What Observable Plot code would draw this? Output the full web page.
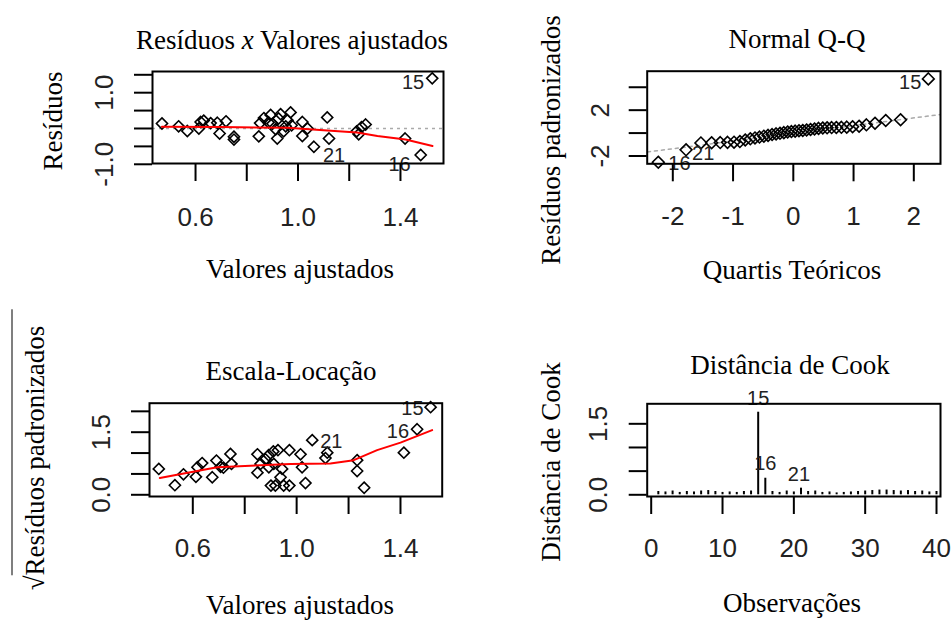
<!DOCTYPE html>
<html><head><meta charset="utf-8">
<script src="https://cdn.jsdelivr.net/npm/d3@7"></script>
<script src="https://cdn.jsdelivr.net/npm/@observablehq/plot@0.6"></script>
<style>
html,body{margin:0;padding:0;background:#fff;}
#chart{position:relative;width:951px;height:623px;overflow:hidden;background:#fff;}
.lbl{position:absolute;font-family:"Liberation Serif","Times New Roman",serif;font-size:27px;line-height:27px;white-space:nowrap;color:#000;}
</style></head><body><div id="chart"></div>
<script>
// ---------- Panel 1: Resíduos x Valores ajustados ----------
const p1Fitted = [0.469,0.534,0.568,0.613,0.620,0.632,0.659,0.685,0.694,0.719,0.750,0.750,0.847,0.852,0.867,0.885,0.893,0.900,0.913,0.919,0.924,0.932,0.944,0.952,0.959,0.971,0.975,1.017,1.017,1.037,1.062,1.114,1.121,1.229,1.237,1.248,1.264,1.418,1.479,1.524];
const p1Resid  = [0.14,0.06,-0.07,0.00,0.18,0.22,0.15,0.16,-0.14,0.20,-0.23,-0.31,-0.22,0.15,0.29,0.17,0.38,0.13,-0.02,-0.28,0.28,0.40,-0.08,0.06,0.23,0.45,0.09,0.18,-0.21,0.00,-0.51,0.31,-0.28,-0.08,-0.16,0.04,0.11,-0.28,-0.74,1.40];
const p1SmoothX = [0.469,0.70,0.96,1.10,1.23,1.31,1.42,1.525];
const p1SmoothY = [0.05,0.04,0.02,-0.05,-0.11,-0.21,-0.31,-0.49];
const p1XTicks = [0.6,0.8,1.0,1.2,1.4];
const p1XTickLabels = [0.6,1.0,1.4];
const p1YTicks = [-1.0,-0.5,0,0.5,1.0,1.5];
const p1YTickLabels = [-1.0,1.0];
const p1Ids = ["15","16","21"];
const p1IdX = [1.524,1.479,1.062];
const p1IdY = [1.40,-0.74,-0.51];

// ---------- Panel 2: Normal Q-Q ----------
const qqTheo = [-2.241,-1.780,-1.534,-1.356,-1.213,-1.092,-0.984,-0.887,-0.798,-0.714,-0.636,-0.561,-0.489,-0.419,-0.352,-0.286,-0.221,-0.157,-0.094,-0.031,0.031,0.094,0.157,0.221,0.286,0.352,0.419,0.489,0.561,0.636,0.714,0.798,0.887,0.984,1.092,1.213,1.356,1.534,1.780,2.241];
const qqStd = [-2.54,-1.46,-0.86,-0.84,-0.83,-0.81,-0.79,-0.74,-0.60,-0.50,-0.42,-0.35,-0.27,-0.20,-0.13,-0.07,-0.02,0.04,0.09,0.13,0.17,0.20,0.23,0.27,0.31,0.36,0.41,0.44,0.46,0.48,0.49,0.50,0.52,0.55,0.60,0.72,0.86,1.10,1.16,4.73];
const qqRefX = [-2.42,2.44];
const qqRefY = [-1.65,1.62];
const p2XTicks = [-2,-1,0,1,2];
const p2XTickLabels = [-2,-1,0,1,2];
const p2YTicks = [-2,0,2,4];
const p2YTickLabels = [-2,2];
const p2Ids = ["15","16","21"];
const p2IdX = [2.241,-2.241,-1.780];
const p2IdY = [4.73,-2.54,-1.46];

// ---------- Panel 3: Escala-Locação ----------
const p3Fitted = [0.469,0.531,0.564,0.612,0.618,0.636,0.675,0.691,0.707,0.718,0.745,0.749,0.849,0.849,0.861,0.880,0.892,0.893,0.901,0.910,0.912,0.918,0.928,0.938,0.944,0.950,0.972,0.972,1.015,1.021,1.034,1.060,1.111,1.118,1.233,1.233,1.260,1.413,1.464,1.516];
const p3SqrtStd = [0.62,0.23,0.49,0.43,0.66,0.76,0.42,0.82,0.67,0.65,0.98,0.74,0.97,0.53,0.74,0.85,0.95,0.66,0.22,1.04,0.74,0.22,1.07,0.42,0.62,0.22,1.07,0.22,0.97,0.66,0.28,1.31,0.88,1.01,0.83,0.57,0.17,1.01,1.57,2.10];
const p3SmoothX = [0.473,0.565,0.694,0.861,0.976,1.13,1.22,1.31,1.40,1.522];
const p3SmoothY = [0.40,0.51,0.66,0.71,0.74,0.75,0.83,1.07,1.25,1.55];
const p3XTicks = [0.6,0.8,1.0,1.2,1.4];
const p3XTickLabels = [0.6,1.0,1.4];
const p3YTicks = [0,0.5,1.0,1.5,2.0];
const p3YTickLabels = [0.0,1.5];
const p3Ids = ["15","16","21"];
const p3IdX = [1.516,1.464,1.060];
const p3IdY = [2.10,1.57,1.31];

// ---------- Panel 4: Distância de Cook ----------
const cookObs = [1,2,3,4,5,6,7,8,9,10,11,12,13,14,15,16,17,18,19,20,21,22,23,24,25,26,27,28,29,30,31,32,33,34,35,36,37,38,39,40];
const cookD = [0.07,0.06,0.08,0.05,0.07,0.06,0.08,0.09,0.07,0.05,0.06,0.05,0.07,0.08,1.745,0.35,0.07,0.05,0.08,0.06,0.14,0.07,0.08,0.05,0.06,0.04,0.05,0.06,0.07,0.08,0.09,0.10,0.10,0.09,0.08,0.09,0.07,0.08,0.06,0.07];
const p4XTicks = [0,10,20,30,40];
const p4XTickLabels = [0,10,20,30,40];
const p4YTicks = [0,0.5,1.0,1.5];
const p4YTickLabels = [0.0,1.5];
const p4Ids = ["15","16","21"];
const p4IdX = [15,16,21];
const p4IdY = [1.745,0.35,0.14];

// ---------- drawing ----------
const W = 951, H = 623;
const SANS = "Liberation Sans, Arial, sans-serif";
const chart = document.getElementById("chart");
const zip = (xs, ys) => xs.map((x, i) => ({x, y: ys[i]}));

function panel({box, xDomain, yDomain, xTicks, yTicks, xLabels, yLabels, fmtX, fmtY, xdy, ydx, marks}) {
  const svg = Plot.plot({
    width: W, height: H,
    marginLeft: box.L, marginRight: W - box.R, marginTop: box.T, marginBottom: H - box.B,
    x: {domain: xDomain, label: null},
    y: {domain: yDomain, label: null},
    style: "position:absolute;left:0;top:0;background:transparent;max-width:none;overflow:visible;",
    marks: [
      ...marks,
      Plot.frame({stroke: "#000", strokeWidth: 2}),
      Plot.axisX(xTicks, {anchor: "bottom", tickSize: 18, tickFormat: () => "", strokeWidth: 2, label: null}),
      Plot.axisY(yTicks, {anchor: "left", tickSize: 18, tickFormat: () => "", strokeWidth: 2, label: null}),
      Plot.text(xLabels, {x: d => d, text: fmtX, frameAnchor: "bottom", textAnchor: "middle", lineAnchor: "middle", dy: xdy, fontSize: 26, fontFamily: SANS, fill: "#222"}),
      Plot.text(yLabels, {y: d => d, text: fmtY, frameAnchor: "left", textAnchor: "middle", lineAnchor: "middle", dx: ydx, rotate: -90, fontSize: 26, fontFamily: SANS, fill: "#222"})
    ]
  });
  chart.appendChild(svg);
}

function idText(ids, xs, ys, k, opts) {
  return Plot.text([{id: ids[k], x: xs[k], y: ys[k]}], {x: "x", y: "y", text: "id", fontSize: 20, fontFamily: SANS, fill: "#222", ...opts});
}

const diamond = {symbol: "diamond2", r: 5, stroke: "#000", strokeWidth: 1.6, fill: "none"};
const f1 = d => d.toFixed(1);
const f0 = d => String(d);

// Panel 1
panel({
  box: {L: 152, R: 443, T: 71, B: 163},
  xDomain: [0.432, 1.568], yDomain: [-0.978, 1.592],
  xTicks: p1XTicks, yTicks: p1YTicks, xLabels: p1XTickLabels, yLabels: p1YTickLabels,
  fmtX: f1, fmtY: f1, xdy: 54, ydx: -48,
  marks: [
    Plot.ruleY([0], {stroke: "#aaa", strokeDasharray: "3 4", strokeWidth: 1.5}),
    Plot.dot(zip(p1Fitted, p1Resid), {x: "x", y: "y", ...diamond}),
    Plot.line(zip(p1SmoothX, p1SmoothY), {x: "x", y: "y", stroke: "#ff0000", strokeWidth: 2}),
    idText(p1Ids, p1IdX, p1IdY, 0, {textAnchor: "end", dx: -8, dy: 4}),
    idText(p1Ids, p1IdX, p1IdY, 1, {textAnchor: "end", dx: -10, dy: 10}),
    idText(p1Ids, p1IdX, p1IdY, 2, {textAnchor: "start", dx: 9, dy: 8.5})
  ]
});

// Panel 2
panel({
  box: {L: 646.7, R: 940, T: 70.7, B: 163.3},
  xDomain: [-2.425, 2.443], yDomain: [-2.68, 5.40],
  xTicks: p2XTicks, yTicks: p2YTicks, xLabels: p2XTickLabels, yLabels: p2YTickLabels,
  fmtX: f0, fmtY: f0, xdy: 53, ydx: -47,
  marks: [
    Plot.line(zip(qqRefX, qqRefY), {x: "x", y: "y", stroke: "#aaa", strokeDasharray: "3 4", strokeWidth: 1.5}),
    Plot.dot(zip(qqTheo, qqStd), {x: "x", y: "y", ...diamond, r: 5.3}),
    idText(p2Ids, p2IdX, p2IdY, 0, {textAnchor: "end", dx: -7, dy: 3.5}),
    idText(p2Ids, p2IdX, p2IdY, 1, {textAnchor: "start", dx: 10, dy: 1.5}),
    idText(p2Ids, p2IdX, p2IdY, 2, {textAnchor: "start", dx: 6, dy: 3.5})
  ]
});

// Panel 3
panel({
  box: {L: 149, R: 441.7, T: 402.7, B: 496},
  xDomain: [0.4332, 1.5607], yDomain: [-0.041, 2.195],
  xTicks: p3XTicks, yTicks: p3YTicks, xLabels: p3XTickLabels, yLabels: p3YTickLabels,
  fmtX: f1, fmtY: f1, xdy: 52, ydx: -48,
  marks: [
    Plot.dot(zip(p3Fitted, p3SqrtStd), {x: "x", y: "y", ...diamond}),
    Plot.line(zip(p3SmoothX, p3SmoothY), {x: "x", y: "y", stroke: "#ff0000", strokeWidth: 2}),
    idText(p3Ids, p3IdX, p3IdY, 0, {textAnchor: "end", dx: -7, dy: 1}),
    idText(p3Ids, p3IdX, p3IdY, 1, {textAnchor: "end", dx: -8, dy: 2}),
    idText(p3Ids, p3IdX, p3IdY, 2, {textAnchor: "start", dx: 8, dy: 1.5})
  ]
});

// Panel 4
panel({
  box: {L: 646.7, R: 940, T: 403.3, B: 496},
  xDomain: [-0.56, 40.56], yDomain: [-0.036, 1.923],
  xTicks: p4XTicks, yTicks: p4YTicks, xLabels: p4XTickLabels, yLabels: p4YTickLabels,
  fmtX: f0, fmtY: f1, xdy: 52, ydx: -49,
  marks: [
    Plot.ruleX(zip(cookObs, cookD), {x: "x", y: "y", stroke: "#000", strokeWidth: 2}),
    idText(p4Ids, p4IdX, p4IdY, 0, {textAnchor: "middle", dy: -13.5}),
    idText(p4Ids, p4IdX, p4IdY, 1, {textAnchor: "middle", dy: -14.5}),
    idText(p4Ids, p4IdX, p4IdY, 2, {textAnchor: "middle", dx: -2, dy: -13.7})
  ]
});

// ---------- titles and axis labels ----------
function label(html, cx, base) {
  const d = document.createElement("div");
  d.className = "lbl";
  d.innerHTML = html;
  d.style.left = cx + "px";
  d.style.top = (base - 22.6) + "px";
  d.style.transform = "translateX(-50%)";
  chart.appendChild(d);
}
function vlabel(html, baseX, cy) {
  const d = document.createElement("div");
  d.className = "lbl";
  d.innerHTML = html;
  d.style.left = (baseX - 9.1) + "px";
  d.style.top = cy + "px";
  d.style.transform = "translate(-50%,-50%) rotate(-90deg)";
  chart.appendChild(d);
}

label("Resíduos <i>x</i> Valores ajustados", 292, 50);
label("Normal Q-Q", 797, 49);
label("Escala-Locação", 291, 381);
label("Distância de Cook", 790, 375);

label("Valores ajustados", 300, 279);
label("Quartis Teóricos", 792, 280);
label("Valores ajustados", 300, 615);
label("Observações", 792, 613);

vlabel("Resíduos", 62, 121);
vlabel("Resíduos padronizados", 560, 140);
vlabel("Distância de Cook", 560, 462);
vlabel('<span>√</span><span style="border-top:1.6px solid #000;padding-top:7px;padding-right:16px;">Resíduos padronizados</span>', 44, 450);
</script></body></html>
